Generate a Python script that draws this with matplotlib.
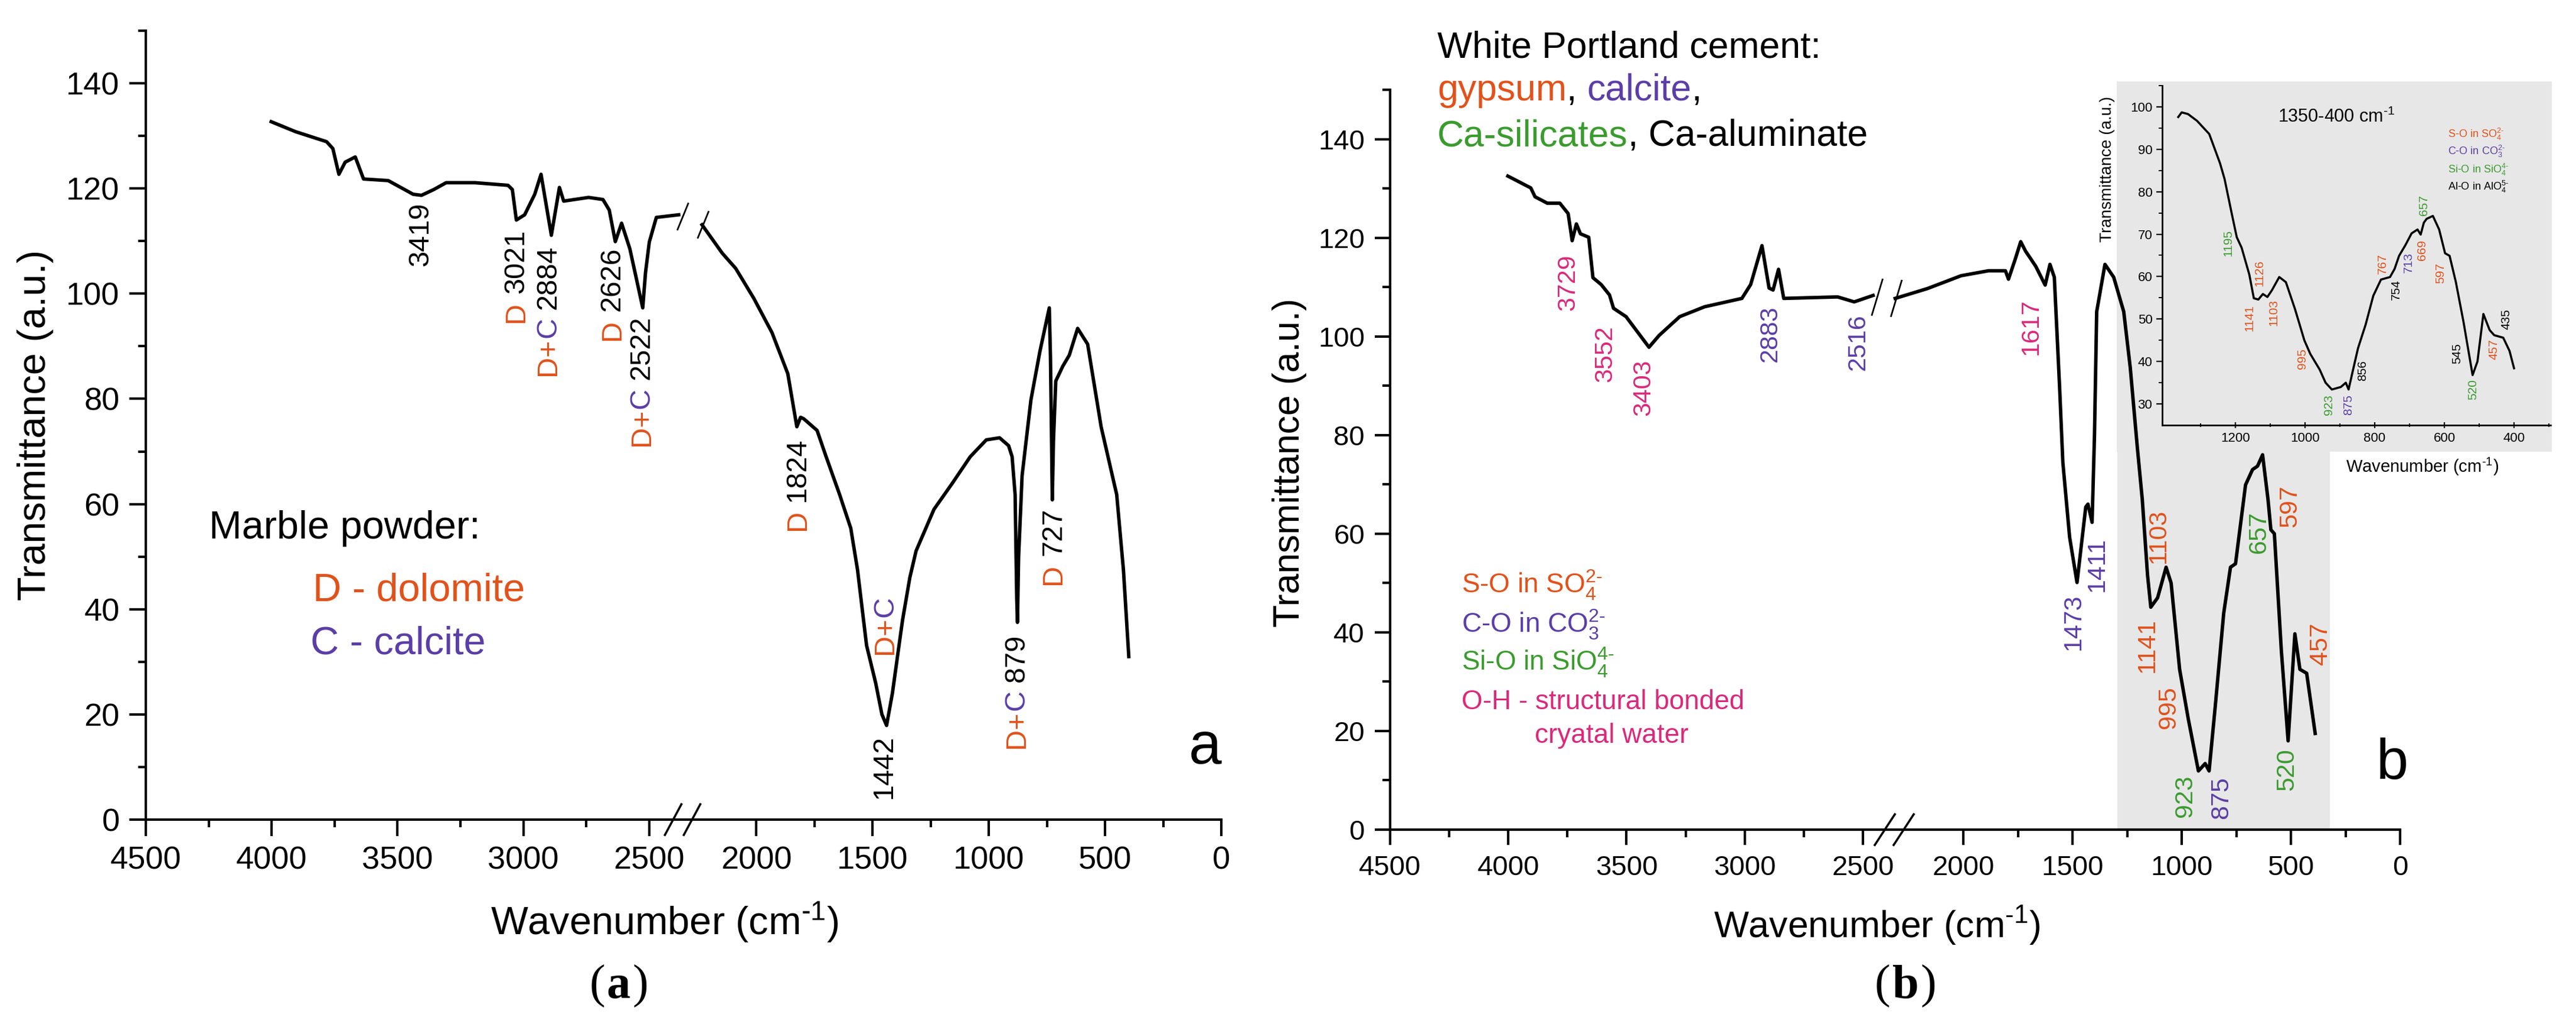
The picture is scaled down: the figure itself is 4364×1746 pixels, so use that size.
import numpy as np
import matplotlib
matplotlib.use('Agg')
import matplotlib.pyplot as plt
from matplotlib.transforms import IdentityTransform
from matplotlib.patches import Rectangle
from matplotlib.ticker import FixedLocator, NullFormatter

plt.rcParams['font.family'] = ['Liberation Sans', 'DejaVu Sans']
plt.rcParams['mathtext.fontset'] = 'custom'
plt.rcParams['mathtext.rm'] = 'Liberation Sans'
plt.rcParams['mathtext.it'] = 'Liberation Sans:italic'
plt.rcParams['mathtext.bf'] = 'Liberation Sans:bold'

W, H, DPI = 4364, 1746, 100

ORANGE = '#e0521c'
PURPLE = '#5b3ea6'
GREEN = '#3b9b2f'
PINK = '#d92a7a'
GRAY = '#e7e7e7'

# ---------------- data: panel (a) marble powder ----------------
a_left_x = [4002, 3905, 3782, 3757, 3733, 3708, 3668, 3635, 3537, 3438, 3405, 3356, 3307, 3192,
            3061, 3044, 3028, 2995, 2955, 2930, 2889, 2857, 2840, 2741, 2684, 2659, 2635, 2610,
            2577, 2526, 2515, 2500, 2472, 2383]
a_left_y = [132.7, 130.8, 128.9, 127.6, 122.7, 125.0, 126.0, 121.8, 121.5, 118.9, 118.7, 119.8, 121.1, 121.1,
            120.6, 119.8, 114.0, 115.0, 118.9, 122.7, 111.1, 120.2, 117.6, 118.3, 117.9, 115.9, 109.9, 113.4,
            108.5, 97.3, 104.0, 109.8, 114.5, 115.0]
a_right_x = [2234, 2147, 2089, 2011, 1933, 1865, 1826, 1810, 1796, 1739, 1700, 1642, 1594, 1565, 1526,
             1487, 1460, 1440, 1415, 1390, 1371, 1340, 1313, 1236, 1158, 1080, 1011, 954, 915, 900,
             887, 880, 877, 872, 857, 819, 780, 740, 735, 727, 722, 712, 682, 654, 618, 575, 517,
             450, 421, 398]
a_right_y = [113.1, 107.7, 104.8, 99.1, 92.6, 84.8, 74.7, 76.5, 76.2, 74.0, 69.0, 61.8, 55.4, 47.5, 33.1,
             26.0, 20.0, 17.9, 24.0, 32.0, 38.0, 46.0, 51.1, 59.0, 63.9, 69.0, 72.2, 72.6, 71.1, 69.0,
             61.8, 42.0, 37.5, 50.0, 65.4, 79.8, 89.1, 97.3, 88.0, 60.8, 72.0, 83.4, 86.2, 88.3, 93.4, 90.4, 74.7,
             61.8, 47.5, 31.0]

# peak labels of (a): (pieces in reading order, anchor wavenumber, anchor top)
a_labels = [
    ([('3419', 'k')], 3409, 117.3),
    ([('D', ORANGE), (' 3021', 'k')], 3028, 112.2),
    ([('D+', ORANGE), ('C', PURPLE), (' 2884', 'k')], 2902, 109.2),
    ([('D', ORANGE), (' 2626', 'k')], 2647, 108.8),
    ([('D+', ORANGE), ('C', PURPLE), (' 2522', 'k')], 2530, 95.8),
    ([('D', ORANGE), (' 1824', 'k')], 1823, 72.6),
    ([('D+', ORANGE), ('C', PURPLE)], 1445, 42.5),
    ([('1442', 'k')], 1450, 16.1),
    ([('D+', ORANGE), ('C', PURPLE), (' 879', 'k')], 880, 35.3),
    ([('D', ORANGE), (' 727', 'k')], 722, 59.3),
]

# ---------------- data: panel (b) white Portland cement ----------------
b_left_x = [4002, 3905, 3887, 3835, 3782, 3747, 3730, 3712, 3695, 3660, 3642, 3607, 3572, 3555, 3502,
            3405, 3362, 3275, 3170, 3012, 2975, 2927, 2897, 2880, 2857, 2835, 2607, 2537, 2512, 2457]
b_left_y = [132.5, 130.1, 128.3, 127.0, 127.0, 124.9, 119.4, 122.8, 120.8, 120.1, 111.9, 110.5, 108.4, 105.7, 104.0,
            97.8, 100.2, 104.0, 106.0, 107.7, 110.5, 118.4, 109.8, 109.4, 113.6, 107.7, 108.0, 107.0, 107.4, 108.3]
b_right_x = [2313, 2165, 2011, 1886, 1808, 1794, 1762, 1738, 1716, 1669, 1626, 1604, 1584, 1560, 1545,
             1514, 1480, 1440, 1430, 1411, 1400, 1390, 1352, 1312, 1266, 1236, 1204, 1181, 1157, 1142,
             1111, 1072, 1049, 1010, 971, 924, 893, 875, 847, 808, 777, 754, 708, 676, 653, 630, 605,
             592, 576, 544, 513, 482, 459, 428, 389]
b_right_y = [107.7, 109.7, 112.3, 113.3, 113.3, 111.6, 115.8, 119.2, 117.3, 114.2, 110.4, 114.6, 112.0, 89.8, 74.5,
             59.3, 50.1, 65.4, 66.0, 62.3, 80.0, 105.0, 114.6, 112.0, 105.0, 93.6, 77.6, 66.9, 51.6, 45.1,
             47.0, 53.2, 50.0, 32.5, 22.6, 11.9, 13.4, 11.9, 24.9, 43.9, 53.2, 53.9, 69.9, 73.0, 73.7, 76.0, 66.9,
             60.8, 60.0, 36.3, 18.0, 39.7, 32.5, 31.7, 19.5]

b_labels = [
    ('3729', PINK, 3748, 116.7), ('3552', PINK, 3590, 102.2), ('3403', PINK, 3427, 95.4),
    ('2883', PURPLE, 2893, 106.3), ('2516', PURPLE, 2520, 104.6), ('1617', PINK, 1692, 107.7),
    ('1473', PURPLE, 1495, 47.8), ('1411', PURPLE, 1389, 59.3), ('1103', ORANGE, 1108, 65.0),
    ('1141', ORANGE, 1157, 42.9), ('995', ORANGE, 1061, 29.1), ('923', GREEN, 983, 11.1),
    ('875', PURPLE, 820, 10.8), ('657', GREEN, 646, 64.6), ('597', ORANGE, 505, 69.9),
    ('520', GREEN, 518, 16.5), ('457', ORANGE, 366, 42.0),
]

# ---------------- data: inset 1350-400 cm-1 ----------------
ins_x = [1364, 1354, 1336, 1310, 1275, 1244, 1231, 1209, 1196, 1182, 1160, 1147, 1134, 1121, 1108, 1095,
         1074, 1055, 1029, 1002, 985, 958, 941, 923, 897, 883, 875, 862, 848, 826, 804, 782, 756, 743,
         730, 712, 694, 677, 668, 659, 651, 633, 615, 598, 585, 567, 545, 519, 505, 488, 470, 457, 431,
         413, 400]
ins_y = [97.6, 98.7, 98.3, 96.7, 93.6, 86.7, 83.0, 74.3, 69.3, 66.8, 60.5, 54.9, 54.6, 55.9, 55.2, 56.8,
         59.9, 58.7, 52.4, 45.0, 41.8, 38.1, 35.0, 33.4, 34.0, 35.0, 33.4, 38.1, 43.1, 48.7, 55.5, 59.3, 59.9, 61.8,
         64.9, 67.4, 70.2, 71.1, 69.9, 72.7, 73.6, 74.3, 71.1, 65.5, 64.9, 58.7, 49.3, 36.8, 40.0, 51.2, 47.4, 46.2, 45.6,
         42.5, 38.4]
ins_labels = [
    ('1195', GREEN, 1220, 71.1), ('1126', ORANGE, 1130, 64.0), ('1141', ORANGE, 1160, 53.4),
    ('1103', ORANGE, 1090, 54.6), ('995', ORANGE, 1007, 43.1), ('923', GREEN, 932, 32.2),
    ('875', PURPLE, 875, 32.2), ('856', 'k', 835, 40.3), ('767', ORANGE, 778, 65.5),
    ('754', 'k', 738, 59.3), ('713', PURPLE, 703, 65.8), ('669', ORANGE, 664, 68.6),
    ('657', GREEN, 659, 79.2), ('597', ORANGE, 611, 63.3), ('545', 'k', 563, 44.3),
    ('520', GREEN, 517, 35.9), ('457', ORANGE, 457, 45.3), ('435', 'k', 422, 52.4),
]

x_major = [4500, 4000, 3500, 3000, 2500, 2000, 1500, 1000, 500, 0]
x_minor = [4250, 3750, 3250, 2750, 1750, 1250, 750, 250]
y_major = [0, 20, 40, 60, 80, 100, 120, 140]
y_minor = [10, 30, 50, 70, 90, 110, 130, 150]

# ---------------- broken-axis scale ----------------
R, L, K, EPS = 2320.0, 2370.0, 1.083, 1e-3
U1 = R
U2 = R + (L - R) * EPS


def fwd(x):
    x = np.asarray(x, dtype=float)
    return np.where(x <= R, x, np.where(x < L, R + (x - R) * EPS, U2 + (x - L) * K))


def inv(u):
    u = np.asarray(u, dtype=float)
    return np.where(u <= U1, u, np.where(u < U2, R + (u - U1) / EPS, L + (u - U2) / K))


fig = plt.figure(figsize=(W / DPI, H / DPI), dpi=DPI)
fig.patch.set_facecolor('white')
renderer = fig.canvas.get_renderer()

SUP2 = r'$_4^{2\text{-}}$'


def fr(px, py):
    return px / W, 1 - py / H


def box(l, t, r, b):
    return [l / W, 1 - b / H, (r - l) / W, (b - t) / H]


def text_width(txt, fs, **kw):
    t = fig.text(0, 0, txt, fontsize=fs, **kw)
    w = t.get_window_extent(renderer).width
    t.remove()
    return w


def setup_main(ax, fs_tick, lw, tlen):
    ax.set_xscale('function', functions=(fwd, inv))
    ax.set_xlim(4500, 0)
    ax.set_ylim(0, 150)
    for s in ('top', 'right'):
        ax.spines[s].set_visible(False)
    for s in ('left', 'bottom'):
        ax.spines[s].set_linewidth(lw)
    ax.xaxis.set_major_locator(FixedLocator(x_major))
    ax.xaxis.set_minor_locator(FixedLocator(x_minor))
    ax.xaxis.set_minor_formatter(NullFormatter())
    ax.set_xticklabels([str(v) for v in x_major])
    ax.yaxis.set_major_locator(FixedLocator(y_major))
    ax.yaxis.set_minor_locator(FixedLocator(y_minor))
    ax.set_yticklabels([str(v) for v in y_major])
    ax.tick_params(which='major', direction='out', length=tlen, width=lw, labelsize=fs_tick, pad=12)
    ax.tick_params(which='minor', direction='out', length=tlen * 0.48, width=lw)


def slash(ax, cx, cy, dx, dy, lw):
    ln = plt.Line2D([cx - dx, cx + dx], [cy - dy, cy + dy], transform=IdentityTransform(),
                    color='k', lw=lw, clip_on=False, zorder=6)
    ax.add_artist(ln)


def vlabel(ax, x, y, pieces, fs):
    """rotated label, top of the text at (x, y); pieces in reading order"""
    x0, y0 = ax.transData.transform((x, y))
    full = ''.join(p[0] for p in pieces)
    wfull = text_width(full, fs)
    prefix = ''
    for txt, col in pieces:
        wend = text_width(prefix + txt, fs)
        prefix += txt
        show = txt.strip()
        if not show:
            continue
        ax.text(x0, y0 - (wfull - wend), show, transform=IdentityTransform(), rotation=90,
                ha='center', va='top', color=col, fontsize=fs, clip_on=False, zorder=7)


def hpieces(px, py, pieces, fs, **kw):
    xd = px
    yd = H - py
    prefix = ''
    for txt, col in pieces:
        wend = text_width(prefix + txt, fs, **kw)
        wthis = text_width(txt, fs, **kw)
        prefix += txt
        fig.text(xd + wend - wthis, yd, txt, transform=IdentityTransform(), ha='left', va='baseline',
                 color=col, fontsize=fs, **kw)


def caption(cx, py, letter, fs):
    yd = H - py
    wl = text_width(letter, fs, family='Liberation Serif', weight='bold')
    fig.text(cx, yd, letter, transform=IdentityTransform(), ha='center', va='baseline', fontsize=fs,
             family='Liberation Serif', weight='bold')
    fig.text(cx - wl / 2 - 3, yd, '(', transform=IdentityTransform(), ha='right', va='baseline', fontsize=fs,
             family='Liberation Serif')
    fig.text(cx + wl / 2 + 3, yd, ')', transform=IdentityTransform(), ha='left', va='baseline', fontsize=fs,
             family='Liberation Serif')


def break_marks(ax, lx, ly, rx, ry, dx, dy, lw, axis_dx, axis_dy):
    p1 = ax.transData.transform((lx, ly))
    p2 = ax.transData.transform((rx, ry))
    slash(ax, p1[0] + 7, p1[1] - 3, dx, dy, lw)
    slash(ax, p2[0] + 2, p2[1], dx, dy, lw)
    xb = ax.transData.transform((0.5 * (R + L), 0))
    slash(ax, xb[0] - 15, xb[1], axis_dx, axis_dy, lw * 1.3)
    slash(ax, xb[0] + 17, xb[1], axis_dx, axis_dy, lw * 1.3)


# ================= panel (a) =================
ax_a = fig.add_axes(box(247, 52, 2069, 1388))
setup_main(ax_a, 39, 3.0, 20)
ax_a.plot(a_left_x, a_left_y, color='k', lw=4.2, solid_joinstyle='round', zorder=3)
ax_a.plot(a_right_x, a_right_y, color='k', lw=4.2, solid_joinstyle='round', zorder=3)
break_marks(ax_a, a_left_x[-1], a_left_y[-1], a_right_x[0], a_right_y[0], 9, 22, 2.0, 14, 26)
for pieces, x, y in a_labels:
    vlabel(ax_a, x, y, pieces, 35)

fig.text(*fr(60, 720), 'Transmittance (a.u.)', rotation=90, ha='center', va='center', fontsize=48)
fig.text(*fr(1126, 1583), r'Wavenumber (cm$^{\text{-}1}$)', ha='center', va='baseline', fontsize=48)
fig.text(*fr(354, 912), 'Marble powder:', ha='left', va='baseline', fontsize=48)
fig.text(*fr(530, 1017), 'D - dolomite', ha='left', va='baseline', fontsize=48, color=ORANGE)
fig.text(*fr(526, 1107), 'C - calcite', ha='left', va='baseline', fontsize=48, color=PURPLE)
fig.text(*fr(2069, 1293), 'a', ha='right', va='baseline', fontsize=72)

# ================= panel (b) =================
ax_b = fig.add_axes(box(2355, 152, 4066, 1405))
setup_main(ax_b, 34, 3.0, 19)
ax_b.axvspan(1295, 322, color=GRAY, lw=0, zorder=0)
bg = Rectangle(fr(3586, 765), (4323 - 3586) / W, (765 - 138) / H, transform=fig.transFigure,
               facecolor=GRAY, edgecolor='none', zorder=0.5, clip_on=False)
ax_b.add_artist(bg)
ax_b.plot(b_left_x, b_left_y, color='k', lw=4.2, solid_joinstyle='round', zorder=3)
ax_b.plot(b_right_x, b_right_y, color='k', lw=4.2, solid_joinstyle='round', zorder=3)
break_marks(ax_b, b_left_x[-1], b_left_y[-1], b_right_x[0], b_right_y[0], 9, 30, 2.0, 17, 26)
for txt, col, x, y in b_labels:
    vlabel(ax_b, x, y, [(txt, col)], 31)

fig.text(*fr(2184, 784), 'Transmittance (a.u.)', rotation=90, ha='center', va='center', fontsize=45)
fig.text(*fr(3180, 1587), r'Wavenumber (cm$^{\text{-}1}$)', ha='center', va='baseline', fontsize=45)
fig.text(*fr(2435, 97), 'White Portland cement:', ha='left', va='baseline', fontsize=45)
hpieces(2435, 170, [('gypsum', ORANGE), (', ', 'k'), ('calcite', PURPLE), (',', 'k')], 45)
hpieces(2435, 247, [('Ca-silicates', GREEN), (', Ca-aluminate', 'k')], 45)

fig.text(*fr(2476, 1005), r'S-O in SO$_4^{2\text{-}}$', ha='left', va='baseline', fontsize=33, color=ORANGE)
fig.text(*fr(2476, 1071), r'C-O in CO$_3^{2\text{-}}$', ha='left', va='baseline', fontsize=33, color=PURPLE)
fig.text(*fr(2476, 1135), r'Si-O in SiO$_4^{4\text{-}}$', ha='left', va='baseline', fontsize=33, color=GREEN)
fig.text(*fr(2476, 1201), 'O-H - structural bonded', ha='left', va='baseline', fontsize=33, color=PINK)
fig.text(*fr(2600, 1258), 'cryatal water', ha='left', va='baseline', fontsize=33, color=PINK)
fig.text(*fr(4053, 1319), 'b', ha='center', va='baseline', fontsize=70)

# captions
caption(1048, 1690, 'a', 58)
caption(3228, 1690, 'b', 58)

# ================= inset =================
ax_i = fig.add_axes(box(3663, 145, 4321, 720))
ax_i.set_facecolor('none')
ax_i.set_xlim(1410, 295)
ax_i.set_ylim(25, 105)
for s in ('top', 'right'):
    ax_i.spines[s].set_visible(False)
for s in ('left', 'bottom'):
    ax_i.spines[s].set_linewidth(2.0)
ax_i.xaxis.set_major_locator(FixedLocator([1200, 1000, 800, 600, 400]))
ax_i.xaxis.set_minor_locator(FixedLocator([1300, 1100, 900, 700, 500, 300]))
ax_i.yaxis.set_major_locator(FixedLocator([30, 40, 50, 60, 70, 80, 90, 100]))
ax_i.yaxis.set_minor_locator(FixedLocator([35, 45, 55, 65, 75, 85, 95, 105]))
ax_i.tick_params(which='major', direction='out', length=7, width=1.6, labelsize=16, pad=5)
ax_i.tick_params(which='minor', direction='out', length=4, width=1.4)
ax_i.tick_params(axis='x', which='both', direction='inout')
ax_i.plot(ins_x, ins_y, color='k', lw=2.6, zorder=3)
for txt, col, x, y in ins_labels:
    vlabel(ax_i, x, y, [(txt, col)], 15)
ax_i.text(0.298, 0.892, r'1350-400 cm$^{\text{-}1}$', transform=ax_i.transAxes, ha='left', va='baseline', fontsize=22)
ax_i.text(0.736, 0.847, r'S-O in SO$_4^{2\text{-}}$', transform=ax_i.transAxes, fontsize=13, color=ORANGE, va='baseline')
ax_i.text(0.736, 0.796, r'C-O in CO$_3^{2\text{-}}$', transform=ax_i.transAxes, fontsize=13, color=PURPLE, va='baseline')
ax_i.text(0.736, 0.743, r'Si-O in SiO$_4^{4\text{-}}$', transform=ax_i.transAxes, fontsize=13, color=GREEN, va='baseline')
ax_i.text(0.736, 0.692, r'Al-O in AlO$_4^{5\text{-}}$', transform=ax_i.transAxes, fontsize=13, color='k', va='baseline')
fig.text(*fr(3570, 287), 'Transmittance (a.u.)', rotation=90, ha='center', va='center', fontsize=20)
fig.text(*fr(4104, 790), r'Wavenumber (cm$^{\text{-}1}$)', ha='center', va='center', fontsize=21)

fig.savefig('out.png', dpi=DPI, facecolor='white')
